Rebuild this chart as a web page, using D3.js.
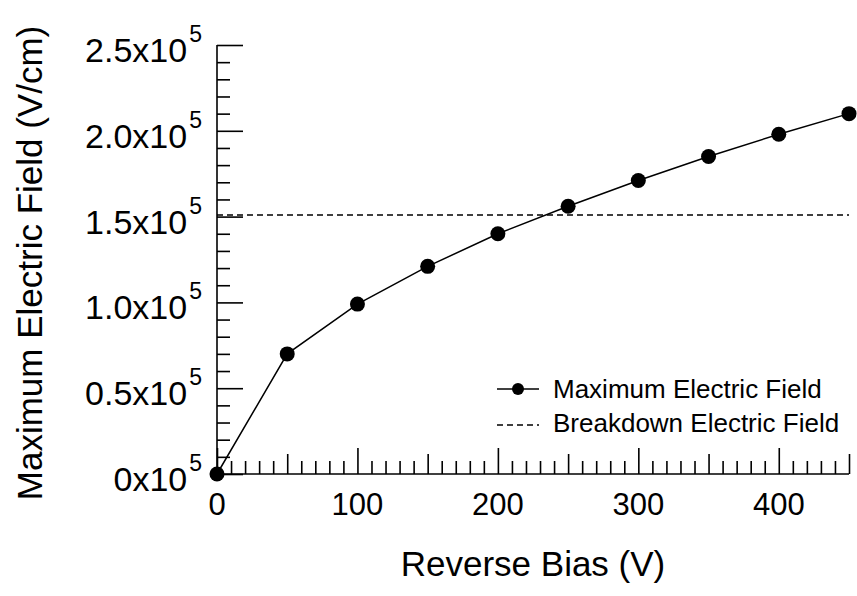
<!DOCTYPE html>
<html>
<head>
<meta charset="utf-8">
<script src="https://cdn.jsdelivr.net/npm/d3@7"></script>
<style>
  html, body { margin: 0; padding: 0; background: #fff; }
  svg { display: block; font-family: "Liberation Sans", Arial, Helvetica, sans-serif; }
</style>
</head>
<body>
<svg id="chart" width="857" height="596"></svg>
<script>
// ---- data ----
const reverseBias = [0, 50, 100, 150, 200, 250, 300, 350, 400, 450];
const maxField = [0, 0.70e5, 0.99e5, 1.21e5, 1.40e5, 1.56e5, 1.71e5, 1.85e5, 1.98e5, 2.10e5];
const breakdownField = 1.51e5;
const xTickValues = [0, 100, 200, 300, 400];
const xTickLabels = ["0", "100", "200", "300", "400"];
const yTickValues = [0, 0.5e5, 1.0e5, 1.5e5, 2.0e5, 2.5e5];
const yTickLabels = ["0", "0.5", "1.0", "1.5", "2.0", "2.5"];
const seriesNames = ["Maximum Electric Field", "Breakdown Electric Field"];
const xTitle = "Reverse Bias (V)";
const yTitle = "Maximum Electric Field (V/cm)";

// ---- layout ----
const svg = d3.select("#chart");
const x = d3.scaleLinear().domain([0, 450]).range([217, 849]);
const y = d3.scaleLinear().domain([0, 2.5e5]).range([474, 45]);
const ink = "#000";

// y-axis ticks (inward, right side)
const yMinor = d3.range(0, 2.5e5 + 1, 0.1e5);
const yAxisMinor = d3.axisRight(y).tickValues(yMinor.filter(v => Math.round(v / 1e4) % 5 !== 0)).tickSize(13).tickFormat("");
const yAxisMajor = d3.axisRight(y).tickValues(yTickValues).tickSize(26).tickFormat("");
[yAxisMinor, yAxisMajor].forEach(ax => {
  const g = svg.append("g").attr("transform", `translate(${x(0)},0)`).call(ax);
  g.selectAll("line").attr("stroke", ink).attr("stroke-width", 1.6);
  g.select(".domain").remove();
});

// x-axis ticks (inward, upward)
const xAll = d3.range(0, 451, 10);
const xMinorVals = xAll.filter(v => v % 50 !== 0);
const xMidVals = xAll.filter(v => v % 50 === 0 && v % 100 !== 0);
const xMajorVals = xAll.filter(v => v % 100 === 0);
[[xMinorVals, 13], [xMidVals, 20], [xMajorVals, 26]].forEach(([vals, len]) => {
  const g = svg.append("g").attr("transform", `translate(0,${y(0)})`)
    .call(d3.axisTop(x).tickValues(vals).tickSize(len).tickFormat(""));
  g.selectAll("line").attr("stroke", ink).attr("stroke-width", 1.6);
  g.select(".domain").remove();
});

// axis lines
svg.append("line").attr("x1", x(0)).attr("x2", x(0)).attr("y1", y(0)).attr("y2", y(2.5e5))
  .attr("stroke", ink).attr("stroke-width", 1.6);
svg.append("line").attr("x1", x(0)).attr("x2", x(450)).attr("y1", y(0)).attr("y2", y(0))
  .attr("stroke", ink).attr("stroke-width", 1.6);

// y tick labels
yTickValues.forEach((v, i) => {
  const t = svg.append("text")
    .attr("x", 202).attr("y", y(v) + 17)
    .attr("text-anchor", "end")
    .attr("font-size", 34).attr("fill", ink);
  t.append("tspan").text(yTickLabels[i] + "x10");
  t.append("tspan").attr("dy", -20).attr("dx", 2).attr("font-size", 23).text("5");
});

// x tick labels
xTickValues.forEach((v, i) => {
  svg.append("text").attr("x", x(v)).attr("y", y(0) + 41)
    .attr("text-anchor", "middle").attr("font-size", 31).attr("fill", ink)
    .text(xTickLabels[i]);
});

// axis titles
svg.append("text").attr("x", (x(0) + x(450)) / 2).attr("y", 576)
  .attr("text-anchor", "middle").attr("font-size", 35).attr("fill", ink).text(xTitle);
svg.append("text").attr("transform", `translate(42,${263}) rotate(-90)`)
  .attr("text-anchor", "middle").attr("font-size", 35).attr("fill", ink).text(yTitle);

// breakdown line
svg.append("line").attr("x1", x(0)).attr("x2", x(450))
  .attr("y1", y(breakdownField)).attr("y2", y(breakdownField))
  .attr("stroke", ink).attr("stroke-width", 1.5).attr("stroke-dasharray", "6,4");

// data line + markers
const pts = reverseBias.map((v, i) => [v, maxField[i]]);
svg.append("path").datum(pts)
  .attr("d", d3.line().x(d => x(d[0])).y(d => y(d[1])))
  .attr("fill", "none").attr("stroke", ink).attr("stroke-width", 1.5);
svg.append("g").selectAll("circle").data(pts).join("circle")
  .attr("cx", d => x(d[0])).attr("cy", d => y(d[1])).attr("r", 7.5).attr("fill", ink);

// legend
const lg = svg.append("g");
lg.append("line").attr("x1", 497).attr("x2", 539).attr("y1", 389).attr("y2", 389)
  .attr("stroke", ink).attr("stroke-width", 1.5);
lg.append("circle").attr("cx", 518).attr("cy", 389).attr("r", 6).attr("fill", ink);
lg.append("text").attr("x", 553).attr("y", 398).attr("font-size", 26).attr("fill", ink).text(seriesNames[0]);
lg.append("line").attr("x1", 497).attr("x2", 539).attr("y1", 425).attr("y2", 425)
  .attr("stroke", ink).attr("stroke-width", 1.3).attr("stroke-dasharray", "6,4");
lg.append("text").attr("x", 553).attr("y", 432).attr("font-size", 26).attr("fill", ink).text(seriesNames[1]);
</script>
</body>
</html>
